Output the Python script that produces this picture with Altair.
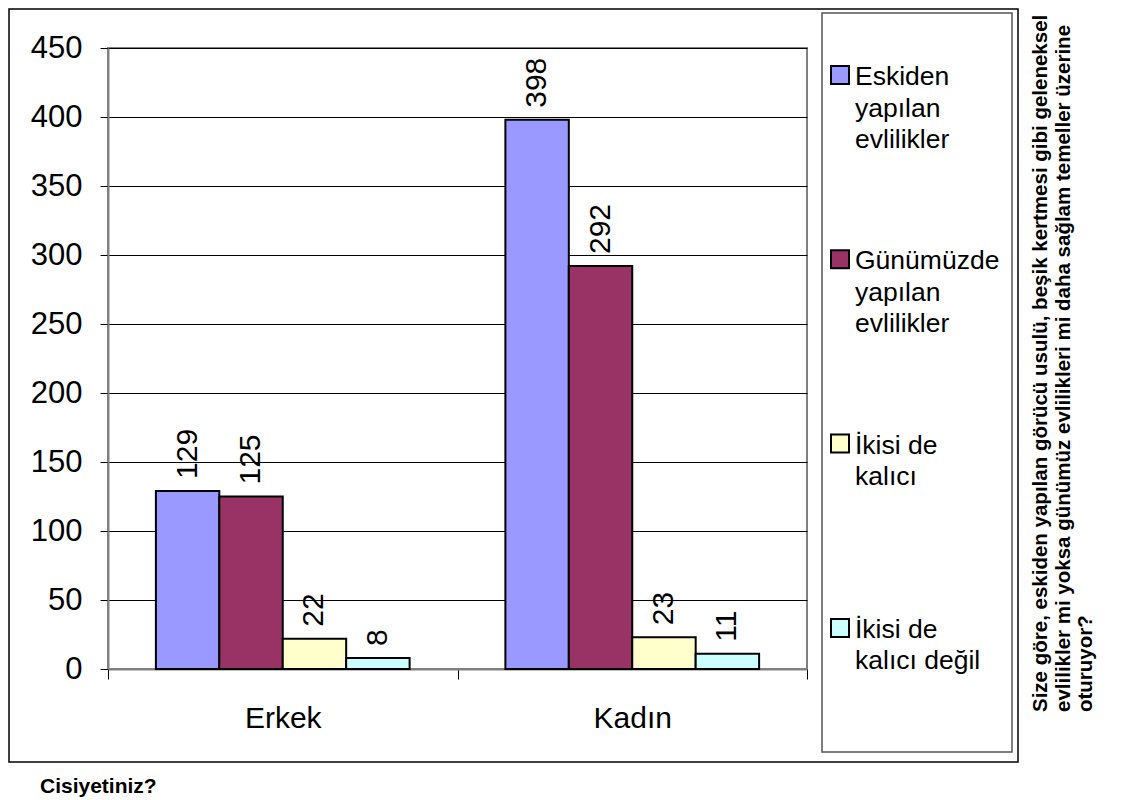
import altair as alt
import pandas as pd

categories = ["Erkek", "Kadın"]
series = [
    "Eskiden yapılan evlilikler",
    "Günümüzde yapılan evlilikler",
    "İkisi de kalıcı",
    "İkisi de kalıcı değil",
]
erkek_values = [129, 125, 22, 8]
kadin_values = [398, 292, 23, 11]
colors = ["#9999FF", "#993366", "#FFFFCC", "#CCFFFF"]
legend_lines = [
    ["Eskiden", "yapılan", "evlilikler"],
    ["Günümüzde", "yapılan", "evlilikler"],
    ["İkisi de", "kalıcı"],
    ["İkisi de", "kalıcı değil"],
]
y_ticks = [0, 50, 100, 150, 200, 250, 300, 350, 400, 450]
x_title = "Cisiyetiniz?"
y_title_lines = [
    "Size göre, eskiden yapılan görücü usulü, beşik kertmesi gibi geleneksel",
    "evlilikler mi yoksa günümüz evlilikleri mi daha sağlam temeller üzerine",
    "oturuyor?",
]

rows = []
for cat, vals in zip(categories, [erkek_values, kadin_values]):
    for s, v in zip(series, vals):
        rows.append({"cat": cat, "series": s, "value": v})
df = pd.DataFrame(rows)

FONT = "Liberation Sans"
W, H = 699, 621

x_enc = alt.X(
    "cat:N",
    sort=categories,
    scale=alt.Scale(paddingInner=0, paddingOuter=0),
    axis=alt.Axis(
        title=None, labelAngle=0, labelFontSize=30, labelFont=FONT, labelColor="#000",
        tickBand="extent", tickSize=10, tickColor="#000", labelPadding=24,
        domainColor="#808080", domainWidth=2, grid=False,
    ),
)
xoff = alt.XOffset("series:N", sort=series, scale=alt.Scale(paddingOuter=0.755, paddingInner=0))
y_enc = alt.Y(
    "value:Q",
    scale=alt.Scale(domain=[0, 450], nice=False),
    axis=alt.Axis(
        values=y_ticks, title=None, labelFontSize=31, labelFont=FONT, labelColor="#000",
        tickSize=8, tickColor="#000", labelPadding=18, domainColor="#808080", domainWidth=2,
        grid=True, gridColor="#000", gridWidth=1,
    ),
)
color_enc = alt.Color("series:N", sort=series, scale=alt.Scale(domain=series, range=colors), legend=None)

base = alt.Chart(df)
bars = base.mark_bar(stroke="black", strokeWidth=2).encode(x=x_enc, xOffset=xoff, y=y_enc, color=color_enc)
labels = base.mark_text(
    angle=270, align="left", baseline="middle", dx=12, fontSize=30, font=FONT, color="#000"
).encode(x=x_enc, xOffset=xoff, y=y_enc, text="value:Q")

one = pd.DataFrame({"k": [0]})
outer = alt.Chart(one).mark_rect(fill="transparent", stroke="#000", strokeWidth=1.5).encode(
    x=alt.value(-99), x2=alt.value(910), y=alt.value(-39), y2=alt.value(714)
)
legend_box = alt.Chart(one).mark_rect(fill="transparent", stroke="#555", strokeWidth=1.5).encode(
    x=alt.value(714), x2=alt.value(904), y=alt.value(-35), y2=alt.value(704)
)

layers = [outer, legend_box, bars, labels]
step = 184.3
for i, (s, col, lines) in enumerate(zip(series, colors, legend_lines)):
    cy = 27 + i * step
    sq = alt.Chart(one).mark_rect(fill=col, stroke="#000", strokeWidth=2).encode(
        x=alt.value(723), x2=alt.value(741), y=alt.value(cy - 9), y2=alt.value(cy + 9)
    )
    tx = alt.Chart(one).mark_text(
        align="left", baseline="alphabetic", fontSize=26.5, font=FONT, lineHeight=31.5, color="#000"
    ).encode(x=alt.value(747), y=alt.value(cy + 10), text=alt.value(lines))
    layers += [sq, tx]

xt = alt.Chart(one).mark_text(
    align="left", baseline="alphabetic", fontSize=21, fontWeight="bold", font=FONT, color="#000"
).encode(x=alt.value(-68), y=alt.value(745), text=alt.value(x_title))
yt = alt.Chart(one).mark_text(
    angle=270, align="left", baseline="top", fontSize=20.5, fontWeight="bold", font=FONT,
    lineHeight=22.5, color="#000"
).encode(x=alt.value(923), y=alt.value(664), text=alt.value(y_title_lines))
layers += [xt, yt]

chart = alt.layer(*layers).properties(
    width=W, height=H,
    autosize=alt.AutoSizeParams(type="none"),
    padding={"left": 100, "top": 40, "right": 322, "bottom": 130},
    background="white",
).configure_view(stroke="#808080", strokeWidth=2)

chart.save("out.html", embed_options={"renderer": "svg", "actions": False})
